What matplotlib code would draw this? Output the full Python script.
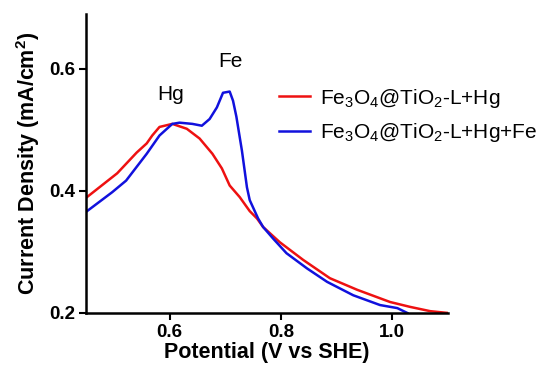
import matplotlib
matplotlib.use('Agg')
import matplotlib.pyplot as plt

# font setup (Arial-like)
plt.rcParams['font.family'] = 'Liberation Sans'
plt.rcParams['mathtext.fontset'] = 'custom'
plt.rcParams['mathtext.rm'] = 'Liberation Sans'
plt.rcParams['mathtext.bf'] = 'Liberation Sans:bold'

# red curve: Fe3O4@TiO2-L+Hg
red_x = [0.449, 0.506, 0.541, 0.559, 0.569, 0.582, 0.605, 0.631, 0.654, 0.677, 0.694,
         0.708, 0.726, 0.744, 0.757, 0.768, 0.798, 0.840, 0.888, 0.937, 0.996, 1.032,
         1.068, 1.100]
red_y = [0.388, 0.429, 0.463, 0.478, 0.491, 0.505, 0.510, 0.502, 0.486, 0.461, 0.437,
         0.409, 0.390, 0.367, 0.355, 0.341, 0.316, 0.287, 0.257, 0.238, 0.218, 0.210,
         0.203, 0.200]

# blue curve: Fe3O4@TiO2-L+Hg+Fe
blue_x = [0.449, 0.497, 0.522, 0.559, 0.582, 0.605, 0.618, 0.641, 0.658, 0.672, 0.685,
          0.696, 0.708, 0.714, 0.720, 0.730, 0.739, 0.744, 0.759, 0.768, 0.786, 0.810,
          0.847, 0.883, 0.930, 0.978, 1.009, 1.027]
blue_y = [0.365, 0.398, 0.417, 0.461, 0.491, 0.510, 0.512, 0.510, 0.507, 0.518, 0.537,
          0.561, 0.563, 0.548, 0.522, 0.466, 0.406, 0.385, 0.355, 0.341, 0.322, 0.298,
          0.273, 0.251, 0.229, 0.213, 0.208, 0.200]

fig = plt.figure(figsize=(5.46, 3.69), dpi=100)
ax = fig.add_axes([0.1575, 0.1518, 0.663, 0.81])

ax.plot(red_x, red_y, color='#ee1111', lw=1.8, label=r'Fe$_3$O$_4$@TiO$_2$-L+Hg')
ax.plot(blue_x, blue_y, color='#1111dd', lw=1.8, label=r'Fe$_3$O$_4$@TiO$_2$-L+Hg+Fe')

ax.set_xlim(0.45, 1.1)
ax.set_ylim(0.2, 0.69)
ax.set_xticks([0.6, 0.8, 1.0])
ax.set_yticks([0.2, 0.4, 0.6])
ax.set_xticklabels(['0.6', '0.8', '1.0'], fontweight='bold', fontsize=13.5)
ax.set_yticklabels(['0.2', '0.4', '0.6'], fontweight='bold', fontsize=13.5)

ax.spines['top'].set_visible(False)
ax.spines['right'].set_visible(False)
for s in ['left', 'bottom']:
    ax.spines[s].set_linewidth(1.8)
ax.tick_params(direction='out', length=5, width=1.5, pad=3)

ax.set_xlabel('Potential (V vs SHE)', fontweight='bold', fontsize=15.5, labelpad=1)
ax.set_ylabel(r'Current Density (mA/cm$^\mathbf{2}$)', fontweight='bold', fontsize=15.5, labelpad=5)

# peak labels
ax.text(0.602, 0.558, 'Hg', fontsize=15, ha='center', va='center')
ax.text(0.71, 0.613, 'Fe', fontsize=15, ha='center', va='center')

ax.legend(loc='upper left', bbox_to_anchor=(0.48, 0.82), frameon=False, fontsize=15,
          handlelength=1.5, handletextpad=0.5, labelspacing=0.55)

fig.savefig('out.png', dpi=100)
